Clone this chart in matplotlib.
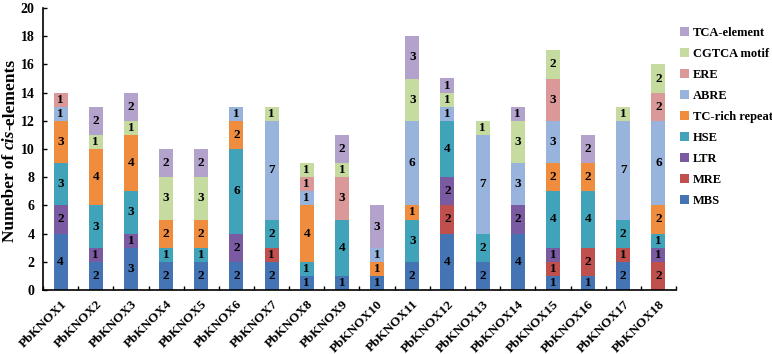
import matplotlib
matplotlib.use("Agg")
import matplotlib.pyplot as plt
import numpy as np

plt.rcParams['font.family'] = ['Liberation Serif', 'DejaVu Serif']
plt.rcParams['font.weight'] = 'bold'

genes = [f"PbKNOX{i}" for i in range(1, 19)]
series_names = ["MBS", "MRE", "LTR", "HSE", "TC-rich repeat", "ABRE", "ERE", "CGTCA motif", "TCA-element"]
MBS   = [4, 2, 3, 2, 2, 2, 2, 1, 1, 1, 2, 4, 2, 4, 1, 1, 2, 0]
MRE   = [0, 0, 0, 0, 0, 0, 1, 0, 0, 0, 0, 2, 0, 0, 1, 2, 1, 2]
LTR   = [2, 1, 1, 0, 0, 2, 0, 0, 0, 0, 0, 2, 0, 2, 1, 0, 0, 1]
HSE   = [3, 3, 3, 1, 1, 6, 2, 1, 4, 0, 3, 4, 2, 0, 4, 4, 2, 1]
TCR   = [3, 4, 4, 2, 2, 2, 0, 4, 0, 1, 1, 0, 0, 0, 2, 2, 0, 2]
ABRE  = [1, 0, 0, 0, 0, 1, 7, 1, 0, 1, 6, 1, 7, 3, 3, 0, 7, 6]
ERE   = [1, 0, 0, 0, 0, 0, 0, 1, 3, 0, 0, 0, 0, 0, 3, 0, 0, 2]
CGTCA = [0, 1, 1, 3, 3, 0, 1, 1, 1, 0, 3, 1, 1, 3, 2, 0, 1, 2]
TCA   = [0, 2, 2, 2, 2, 0, 0, 0, 2, 3, 3, 1, 0, 1, 0, 2, 0, 0]
series = [MBS, MRE, LTR, HSE, TCR, ABRE, ERE, CGTCA, TCA]
colors = ["#4574B4", "#C0504D", "#7A5AA0", "#40A3B9", "#F08C3E", "#98B4DD", "#DB9898", "#C6DBA0", "#B3A3CC"]
yticks = list(range(0, 21, 2))

fig = plt.figure(figsize=(7.72, 3.54), dpi=100)
ax = fig.add_axes([43/772, 1-290/354, (676-43)/772, (290-8)/354])

x = np.arange(len(genes))
bottom = np.zeros(len(genes))
handles = []
for name, vals, col in zip(series_names, series, colors):
    v = np.array(vals, dtype=float)
    bars = ax.bar(x, v, 0.4, bottom=bottom, color=col, label=name, linewidth=0)
    labels = [str(int(a)) if a > 0 else "" for a in v]
    ax.bar_label(bars, labels=labels, label_type='center', fontsize=9.5, fontweight='bold', color='black')
    handles.append(bars)
    bottom += v

ax.set_xlim(-0.5, len(genes) - 0.5)
ax.set_ylim(0, 20)
ax.set_yticks(yticks)
ax.set_yticklabels([str(t) for t in yticks], fontsize=10, fontweight='bold')
ax.set_xticks(x)
ax.set_xticklabels(genes, rotation=45, ha='right', rotation_mode='anchor', fontsize=9.5, fontweight='bold')
ax.set_xticks(np.arange(-0.5, len(genes), 1.0), minor=True)
ax.tick_params(axis='x', which='major', length=0, pad=6)
ax.tick_params(axis='x', which='minor', direction='in', length=3, width=1)
ax.tick_params(axis='y', direction='in', length=3, width=1, pad=6)
for s in ['top', 'right']:
    ax.spines[s].set_visible(False)
for s in ['left', 'bottom']:
    ax.spines[s].set_linewidth(1.2)

# y label with italic "cis", drawn as pieces
fig.canvas.draw()
renderer = fig.canvas.get_renderer()
xpos = 10/772
ycenter = 1 - 150/354
pieces = [("Numeber of ", 'normal'), ("cis", 'italic'), ("-elements", 'normal')]
fs = 12.5
widths = []
for s, st in pieces:
    tt = fig.text(0, 0, s, fontsize=fs, fontweight='bold', style=st)
    bb = tt.get_window_extent(renderer)
    widths.append(bb.width)
    tt.remove()
total = sum(widths)
ystart = ycenter * 354 - total / 2
for (s, st), w in zip(pieces, widths):
    fig.text(xpos, ystart / 354, s, fontsize=fs, fontweight='bold', style=st,
             rotation=90, ha='left', va='center', rotation_mode='anchor')
    ystart += w

fig.legend(handles[::-1], series_names[::-1], loc='upper left', bbox_to_anchor=(680/772, 1-27/354),
           frameon=False, handlelength=0.7, handleheight=0.7, handletextpad=0.35,
           labelspacing=0.72, borderaxespad=0, borderpad=0, prop={'weight': 'bold', 'size': 9})

fig.savefig("out.png", dpi=100)
